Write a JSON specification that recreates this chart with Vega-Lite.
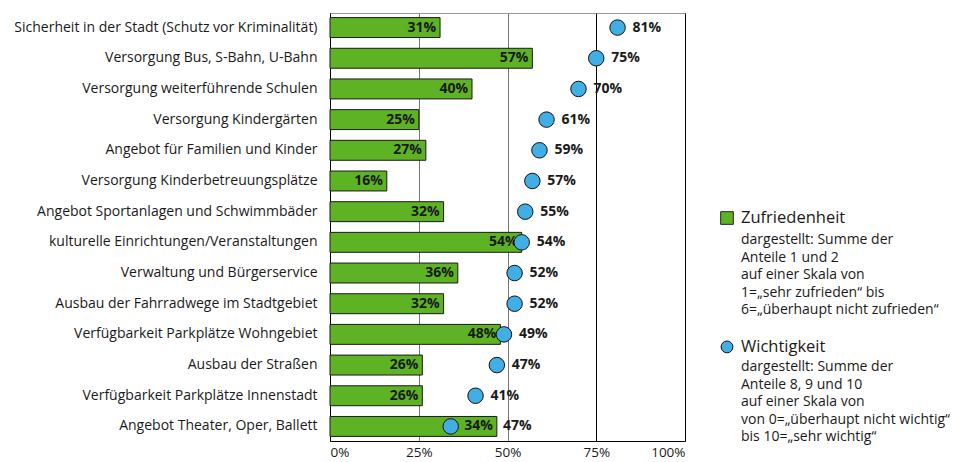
{
  "$schema": "https://vega.github.io/schema/vega-lite/v6.json",
  "background": "white",
  "padding": {"left": 13, "top": 12, "right": 0, "bottom": 0},
  "config": {"font": "Open Sans", "view": {"stroke": null}, "concat": {"spacing": 32}},
  "hconcat": [
    {
      "width": 355,
      "height": 428,
      "view": {"stroke": "#999999"},
      "data": {"values": [
        {"item": "Sicherheit in der Stadt (Schutz vor Kriminalität)", "zufrieden": 31, "wichtig": 81, "labelZ": "31%", "labelW": "81%"},
        {"item": "Versorgung Bus, S-Bahn, U-Bahn", "zufrieden": 57, "wichtig": 75, "labelZ": "57%", "labelW": "75%"},
        {"item": "Versorgung weiterführende Schulen", "zufrieden": 40, "wichtig": 70, "labelZ": "40%", "labelW": "70%"},
        {"item": "Versorgung Kindergärten", "zufrieden": 25, "wichtig": 61, "labelZ": "25%", "labelW": "61%"},
        {"item": "Angebot für Familien und Kinder", "zufrieden": 27, "wichtig": 59, "labelZ": "27%", "labelW": "59%"},
        {"item": "Versorgung Kinderbetreuungsplätze", "zufrieden": 16, "wichtig": 57, "labelZ": "16%", "labelW": "57%"},
        {"item": "Angebot Sportanlagen und Schwimmbäder", "zufrieden": 32, "wichtig": 55, "labelZ": "32%", "labelW": "55%"},
        {"item": "kulturelle Einrichtungen/Veranstaltungen", "zufrieden": 54, "wichtig": 54, "labelZ": "54%", "labelW": "54%"},
        {"item": "Verwaltung und Bürgerservice", "zufrieden": 36, "wichtig": 52, "labelZ": "36%", "labelW": "52%"},
        {"item": "Ausbau der Fahrradwege im Stadtgebiet", "zufrieden": 32, "wichtig": 52, "labelZ": "32%", "labelW": "52%"},
        {"item": "Verfügbarkeit Parkplätze Wohngebiet", "zufrieden": 48, "wichtig": 49, "labelZ": "48%", "labelW": "49%"},
        {"item": "Ausbau der Straßen", "zufrieden": 26, "wichtig": 47, "labelZ": "26%", "labelW": "47%"},
        {"item": "Verfügbarkeit Parkplätze Innenstadt", "zufrieden": 26, "wichtig": 41, "labelZ": "26%", "labelW": "41%"},
        {"item": "Angebot Theater, Oper, Ballett", "zufrieden": 47, "wichtig": 34, "labelZ": "34%", "labelW": "47%"}
      ]},
      "encoding": {
        "y": {
          "field": "item", "type": "nominal", "sort": null,
          "scale": {"paddingInner": 0.35, "paddingOuter": 0.15},
          "axis": {"title": null, "ticks": false, "domain": true, "domainColor": "#000000", "labelFontSize": 14, "labelColor": "#1a1a1a", "labelPadding": 13, "labelLimit": 400}
        }
      },
      "layer": [
        {
          "mark": {"type": "bar", "color": "#5DB323", "stroke": "#1a1a1a", "strokeWidth": 1},
          "encoding": {
            "x": {
              "field": "zufrieden", "type": "quantitative",
              "scale": {"domain": [0, 100]},
              "axis": {
                "title": null, "values": [0, 25, 50, 75, 100], "grid": true,
                "gridColor": {"condition": {"test": "datum.value >= 75", "value": "#000000"}, "value": "#777777"},
                "gridOpacity": 1,
                "domainColor": "#000000", "ticks": false, "labelExpr": "datum.value + '%'",
                "labelFlush": true, "labelPadding": 4, "labelFontSize": 13.5, "labelColor": "#1a1a1a"
              }
            }
          }
        },
        {
          "mark": {"type": "text", "align": "right", "baseline": "middle", "dx": -4, "fontWeight": "bold", "fontSize": 14, "color": "#1a1a1a"},
          "encoding": {
            "x": {"field": "zufrieden", "type": "quantitative"},
            "text": {"field": "labelZ"}
          }
        },
        {
          "mark": {"type": "point", "filled": true, "shape": "circle", "size": 240, "fill": "#41AEE5", "stroke": "#111111", "strokeWidth": 1, "opacity": 1},
          "encoding": {
            "x": {"field": "wichtig", "type": "quantitative"}
          }
        },
        {
          "transform": [{"calculate": "max(datum.zufrieden - 2.5, datum.wichtig)", "as": "labelPos"}],
          "mark": {"type": "text", "align": "left", "baseline": "middle", "dx": 15, "fontWeight": "bold", "fontSize": 14, "color": "#1a1a1a"},
          "encoding": {
            "x": {"field": "labelPos", "type": "quantitative"},
            "text": {"field": "labelW"}
          }
        }
      ]
    },
    {
      "width": 230,
      "height": 428,
      "data": {"values": [
        {"line": 0, "group": "Z", "kind": "head", "text": "Zufriedenheit"},
        {"line": 1, "group": "Z", "kind": "body", "text": "dargestellt: Summe der"},
        {"line": 2, "group": "Z", "kind": "body", "text": "Anteile 1 und 2"},
        {"line": 3, "group": "Z", "kind": "body", "text": "auf einer Skala von"},
        {"line": 4, "group": "Z", "kind": "body", "text": "1=„sehr zufrieden“ bis"},
        {"line": 5, "group": "Z", "kind": "body", "text": "6=„überhaupt nicht zufrieden“"},
        {"line": 7, "group": "W", "kind": "head", "text": "Wichtigkeit"},
        {"line": 8, "group": "W", "kind": "body", "text": "dargestellt: Summe der"},
        {"line": 9, "group": "W", "kind": "body", "text": "Anteile 8, 9 und 10"},
        {"line": 10, "group": "W", "kind": "body", "text": "auf einer Skala von"},
        {"line": 11, "group": "W", "kind": "body", "text": "von 0=„überhaupt nicht wichtig“"},
        {"line": 12, "group": "W", "kind": "body", "text": "bis 10=„sehr wichtig“"}
      ]},
      "encoding": {
        "x": {"datum": 0, "type": "quantitative", "scale": {"domain": [0, 1]}, "axis": null},
        "y": {"field": "line", "type": "quantitative", "scale": {"domain": [-12, 12.5], "reverse": true, "nice": false, "zero": false}, "axis": null}
      },
      "layer": [
        {
          "transform": [{"filter": "datum.group == 'Z' && datum.kind == 'head'"}],
          "mark": {"type": "point", "filled": true, "shape": "square", "size": 160, "fill": "#5DB323", "stroke": "#222222", "strokeWidth": 1, "opacity": 1, "yOffset": -4.6}
        },
        {
          "transform": [{"filter": "datum.group == 'W' && datum.kind == 'head'"}],
          "mark": {"type": "point", "filled": true, "shape": "circle", "size": 140, "fill": "#41AEE5", "stroke": "#111111", "strokeWidth": 1, "opacity": 1, "yOffset": 2}
        },
        {
          "transform": [{"filter": "datum.group == 'Z' && datum.kind == 'head'"}],
          "mark": {"type": "text", "align": "left", "baseline": "middle", "dx": 14, "dy": -4.6, "fontSize": 16.5, "color": "#1a1a1a"},
          "encoding": {"text": {"field": "text"}}
        },
        {
          "transform": [{"filter": "datum.group == 'W' && datum.kind == 'head'"}],
          "mark": {"type": "text", "align": "left", "baseline": "middle", "dx": 14, "dy": 2, "fontSize": 16.5, "color": "#1a1a1a"},
          "encoding": {"text": {"field": "text"}}
        },
        {
          "transform": [{"filter": "datum.group == 'Z' && datum.kind == 'body'"}],
          "mark": {"type": "text", "align": "left", "baseline": "middle", "dx": 14, "fontSize": 14, "color": "#1a1a1a"},
          "encoding": {"text": {"field": "text"}}
        },
        {
          "transform": [{"filter": "datum.group == 'W' && datum.kind == 'body'"}],
          "mark": {"type": "text", "align": "left", "baseline": "middle", "dx": 14, "dy": 5, "fontSize": 14, "color": "#1a1a1a"},
          "encoding": {"text": {"field": "text"}}
        }
      ]
    }
  ]
}
